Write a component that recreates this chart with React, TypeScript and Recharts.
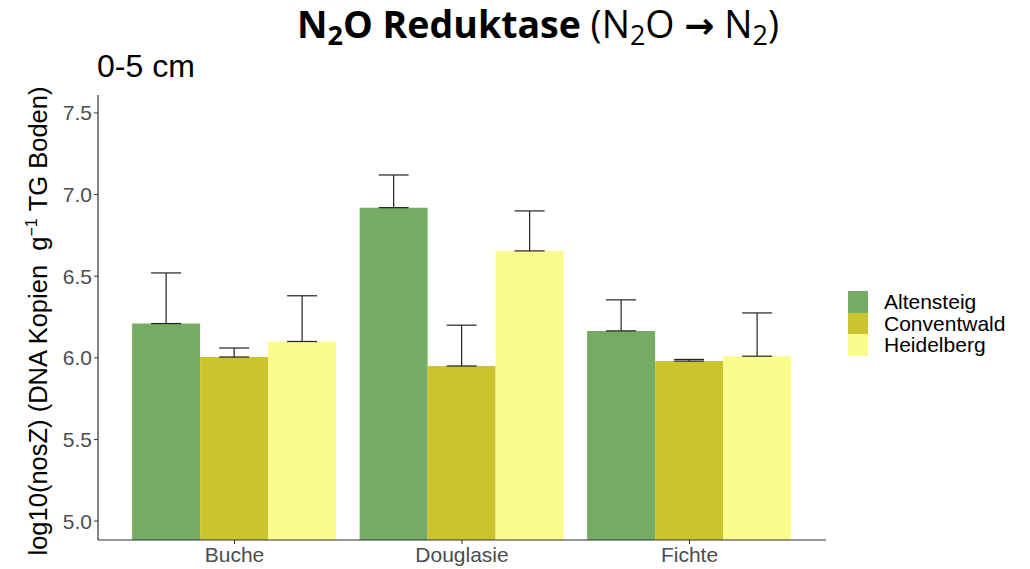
import { BarChart, Bar, XAxis, YAxis, ErrorBar, Legend } from "recharts";

const categories = ["Buche", "Douglasie", "Fichte"];
const seriesNames = ["Altensteig", "Conventwald", "Heidelberg"];
const seriesColors = ["#74AC64", "#CCC42E", "#FCFC8C"];

const altensteig = [6.21, 6.92, 6.165];
const altensteigErr = [0.31, 0.2, 0.19];
const conventwald = [6.005, 5.95, 5.98];
const conventwaldErr = [0.055, 0.25, 0.01];
const heidelberg = [6.1, 6.655, 6.01];
const heidelbergErr = [0.28, 0.245, 0.265];

const yTicks = [5.0, 5.5, 6.0, 6.5, 7.0, 7.5];

// only the upper half of the error bar is drawn, like the ggplot original
const data = categories.map((name, i) => ({
    name,
    Altensteig: altensteig[i],
    AltensteigErr: [0, altensteigErr[i]],
    Conventwald: conventwald[i],
    ConventwaldErr: [0, conventwaldErr[i]],
    Heidelberg: heidelberg[i],
    HeidelbergErr: [0, heidelbergErr[i]],
}));

const font = "'Liberation Sans', Arial, sans-serif";

const YLabel = () => (
    <text
        transform="translate(47, 321) rotate(-90)"
        textAnchor="middle"
        fontFamily={font}
        fontSize={25.5}
        fill="#000"
        style={{ whiteSpace: "pre" }}
    >
        <tspan>{"log10(nosZ) (DNA Kopien\u00A0\u00A0g"}</tspan>
        <tspan dy={-10} fontSize={16}>−1</tspan>
        <tspan dy={10}>{"\u00A0TG Boden)"}</tspan>
    </text>
);

const LegendBox = () => (
    <div style={{ fontFamily: font, fontSize: 21, color: "#000" }}>
        {seriesNames.map((s, i) => (
            <div key={s} style={{ display: "flex", alignItems: "center", height: 21.5 }}>
                <div style={{ width: 20, height: 21.5, background: seriesColors[i], marginRight: 16 }} />
                <span style={{ lineHeight: "21.5px" }}>{s}</span>
            </div>
        ))}
    </div>
);

const sub = { fontSize: 27, verticalAlign: "-7px" } as const;

export default function App() {
    return (
        <div style={{ position: "absolute", left: 0, top: 0, width: 1030, height: 569, background: "#fff" }}>
            <div
                style={{
                    position: "absolute",
                    left: 0,
                    width: 1076,
                    top: -2,
                    textAlign: "center",
                    fontFamily: "'Open Sans', sans-serif",
                    fontSize: 37.5,
                    color: "#000",
                    whiteSpace: "nowrap",
                }}
            >
                <span style={{ fontWeight: 700 }}>
                    N<sub style={sub}>2</sub>O Reduktase
                </span>{" "}
                (N<sub style={sub}>2</sub>O{" "}
                <span style={{ fontWeight: 700, fontFamily: "'DejaVu Sans', sans-serif", fontSize: 36 }}>→</span> N
                <sub style={sub}>2</sub>)
            </div>
            <div
                style={{
                    position: "absolute",
                    left: 97,
                    top: 48,
                    fontFamily: font,
                    fontSize: 32,
                    color: "#000",
                }}
            >
                0-5 cm
            </div>
            <BarChart
                width={1030}
                height={569}
                data={data}
                margin={{ top: 95, right: 204, left: 0, bottom: 0 }}
                barCategoryGap="5%"
                barGap={0}
            >
                <XAxis
                    dataKey="name"
                    height={29}
                    padding={{ left: 22.75, right: 22.75 }}
                    axisLine={{ stroke: "#333", strokeWidth: 1.2 }}
                    tickLine={{ stroke: "#333" }}
                    tickSize={4}
                    tickMargin={3}
                    tick={{ fill: "#4D4D4D", fontSize: 21, fontFamily: font }}
                />
                <YAxis
                    width={98}
                    domain={[4.884, 7.61]}
                    ticks={yTicks}
                    allowDataOverflow
                    tickFormatter={(v: number) => v.toFixed(1)}
                    axisLine={{ stroke: "#333", strokeWidth: 1.2 }}
                    tickLine={{ stroke: "#333" }}
                    tickSize={4}
                    tickMargin={2}
                    tick={{ fill: "#4D4D4D", fontSize: 21, fontFamily: font }}
                    label={<YLabel />}
                />
                <Legend
                    layout="vertical"
                    align="center"
                    verticalAlign="middle"
                    wrapperStyle={{ left: 848, top: 291, width: 182 }}
                    content={() => <LegendBox />}
                />
                {seriesNames.map((s, i) => (
                    <Bar key={s} dataKey={s} fill={seriesColors[i]} isAnimationActive={false}>
                        <ErrorBar
                            dataKey={`${s}Err`}
                            width={15}
                            stroke="#222"
                            strokeWidth={1.2}
                            direction="y"
                            isAnimationActive={false}
                        />
                    </Bar>
                ))}
            </BarChart>
        </div>
    );
}
